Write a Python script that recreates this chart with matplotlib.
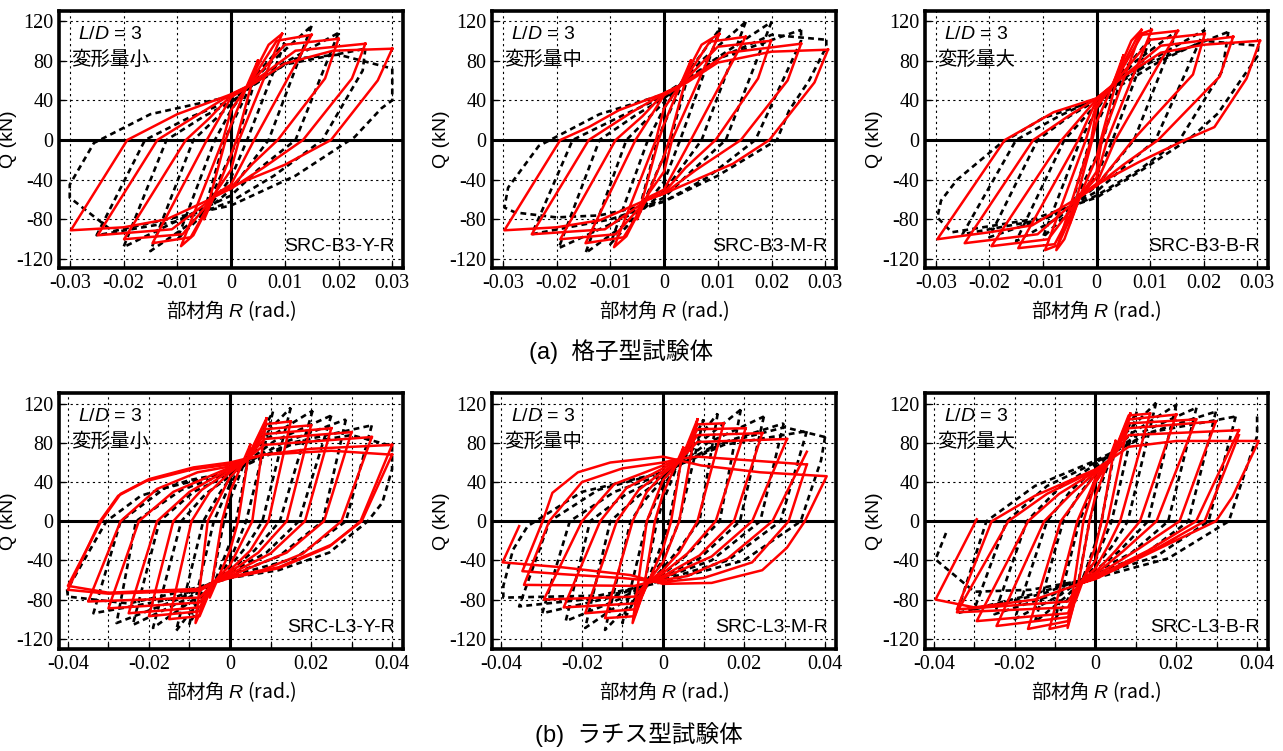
import matplotlib
matplotlib.use('Agg')
import matplotlib.pyplot as plt

plt.rcParams['font.family'] = ['Liberation Sans', 'Noto Sans CJK JP']
plt.rcParams['mathtext.fontset'] = 'custom'
plt.rcParams['mathtext.rm'] = 'Liberation Sans'
plt.rcParams['mathtext.it'] = 'Liberation Sans:italic'

# ---- data: each cycle is a list of (R [rad], Q [kN]) ----
# (a) lattice (格子型) specimens, black = test, red = analysis
B3Y_EXP = [
    [(0.005, 70), (0.0012, 0), (0, -14), (-0.005, -72), (-0.0012, 0), (0, 14), (0.005, 70)],
    [(0.010, 98), (0.003, 0), (0, -38), (-0.005, -74), (-0.010, -100), (-0.003, 0), (0, 30), (0.005, 68), (0.010, 98)],
    [(0.015, 115), (0.007, 0), (0, -50), (-0.007, -82), (-0.015, -112), (-0.007, 0), (0, 36), (0.007, 76), (0.015, 115)],
    [(0.020, 108), (0.012, 0), (0.005, -30), (0, -56), (-0.008, -76), (-0.020, -108), (-0.012, 0), (-0.005, 24), (0, 38), (0.008, 72), (0.020, 108)],
    [(0.025, 92), (0.0245, 70), (0.017, 0), (0.008, -36), (0, -62), (-0.010, -82), (-0.025, -96), (-0.016, 0), (-0.008, 22), (0, 40), (0.010, 76), (0.025, 92)],
    [(0.030, 72), (0.030, 40), (0.028, 32), (0.023, 3), (0.012, -36), (0, -66), (-0.012, -80), (-0.022, -92), (-0.030, -58), (-0.030, -45), (-0.0255, -3), (-0.015, 26), (0, 44), (0.012, 82), (0.020, 86), (0.030, 72)],
]
B3Y_ANA = [
    [(0.005, 80), (0.001, 0), (0, -15), (-0.003, -55), (-0.005, -80), (-0.001, 0), (0, 15), (0.003, 55), (0.005, 80)],
    [(0.0095, 107), (0.0015, 0), (0, -30), (-0.003, -54), (-0.007, -96), (-0.0093, -107), (-0.0015, 0), (0, 30), (0.003, 54), (0.007, 96), (0.0095, 107)],
    [(0.015, 106), (0.0043, 0), (0, -45), (-0.003, -55), (-0.0075, -98), (-0.0146, -104), (-0.0045, 0), (0, 43), (0.003, 53), (0.0085, 100), (0.015, 106)],
    [(0.020, 102), (0.0175, 62), (0.0087, 0), (0.004, -24), (0, -48), (-0.003, -56), (-0.009, -95), (-0.0199, -100), (-0.0084, 0), (-0.004, 22), (0, 45), (0.003, 53), (0.010, 96), (0.020, 102)],
    [(0.025, 97), (0.0225, 62), (0.0134, 0), (0.006, -28), (0, -49), (-0.003, -57), (-0.011, -90), (-0.0248, -96), (-0.0137, 0), (-0.006, 26), (0, 46), (0.003, 54), (0.012, 90), (0.025, 97)],
    [(0.030, 92), (0.0273, 60), (0.0186, 0), (0.010, -25), (0, -47), (-0.004, -60), (-0.012, -80), (-0.020, -88), (-0.0298, -91), (-0.0193, 0), (-0.010, 26), (0, 46), (0.0043, 57), (0.010, 77), (0.019, 90), (0.030, 92)],
]

B3M_EXP = [
    [(0.005, 75), (0.0012, 0), (0, -16), (-0.005, -78), (-0.0012, 0), (0, 16), (0.005, 75)],
    [(0.0105, 113), (0.003, 0), (0, -42), (-0.005, -76), (-0.010, -105), (-0.003, 0), (0, 32), (0.005, 72), (0.0105, 113)],
    [(0.0152, 119), (0.007, 0), (0, -52), (-0.007, -84), (-0.0146, -114), (-0.007, 0), (0, 38), (0.007, 80), (0.0152, 119)],
    [(0.020, 119), (0.0115, 0), (0.005, -32), (0, -58), (-0.008, -80), (-0.0196, -109), (-0.012, 0), (-0.005, 26), (0, 42), (0.008, 76), (0.020, 119)],
    [(0.0255, 111), (0.0255, 100), (0.017, 0), (0.008, -38), (0, -62), (-0.010, -80), (-0.0246, -95), (-0.017, 0), (-0.008, 24), (0, 44), (0.010, 82), (0.0255, 111)],
    [(0.0302, 101), (0.0302, 94), (0.027, 60), (0.0233, 30), (0.021, 0), (0.010, -36), (0, -62), (-0.012, -76), (-0.020, -78), (-0.0277, -73), (-0.0297, -68), (-0.029, -48), (-0.0233, -6), (-0.012, 26), (0, 46), (0.010, 82), (0.020, 106), (0.0302, 101)],
]
B3M_ANA = [
    [(0.005, 80), (0.001, 0), (0, -16), (-0.003, -55), (-0.005, -80), (-0.001, 0), (0, 16), (0.003, 55), (0.005, 80)],
    [(0.0103, 107), (0.0015, 0), (0, -32), (-0.003, -55), (-0.007, -97), (-0.0093, -108), (-0.0015, 0), (0, 32), (0.003, 55), (0.007, 96), (0.0103, 107)],
    [(0.0152, 104), (0.005, 0), (0, -50), (-0.003, -58), (-0.0075, -98), (-0.0146, -104), (-0.0053, 0), (0, 45), (0.003, 54), (0.0085, 99), (0.0152, 104)],
    [(0.0199, 100), (0.0175, 62), (0.0096, 0), (0.004, -28), (0, -53), (-0.003, -59), (-0.009, -95), (-0.0193, -100), (-0.009, 0), (-0.004, 24), (0, 47), (0.003, 55), (0.010, 94), (0.0199, 100)],
    [(0.0255, 97), (0.023, 60), (0.0143, 0), (0.006, -30), (0, -54), (-0.003, -60), (-0.011, -90), (-0.0246, -95), (-0.014, 0), (-0.006, 28), (0, 47), (0.003, 55), (0.012, 88), (0.0255, 97)],
    [(0.0305, 91), (0.028, 58), (0.0196, 0), (0.0128, -24), (0, -54), (-0.004, -62), (-0.012, -81), (-0.020, -88), (-0.0297, -91), (-0.0193, 0), (-0.014, 13), (-0.0084, 30), (0, 47), (0.0043, 58), (0.010, 78), (0.020, 89), (0.0305, 91)],
]

B3B_EXP = [
    [(0.005, 70), (0.0012, 0), (0, -16), (-0.005, -72), (-0.0012, 0), (0, 16), (0.005, 70)],
    [(0.010, 102), (0.003, 0), (0, -36), (-0.005, -72), (-0.010, -98), (-0.003, 0), (0, 30), (0.005, 70), (0.010, 102)],
    [(0.015, 110), (0.007, 0), (0, -46), (-0.007, -78), (-0.015, -102), (-0.006, 0), (0, 36), (0.007, 78), (0.015, 110)],
    [(0.0202, 111), (0.011, 0), (0.005, -28), (0, -52), (-0.008, -76), (-0.020, -98), (-0.011, 0), (-0.005, 24), (0, 40), (0.008, 74), (0.0202, 111)],
    [(0.0246, 109), (0.0235, 70), (0.0155, 0), (0.008, -30), (0, -56), (-0.010, -80), (-0.025, -95), (-0.015, 0), (-0.007, 24), (0, 42), (0.010, 78), (0.0246, 109)],
    [(0.0302, 95), (0.030, 84), (0.027, 61), (0.0227, 27), (0.0184, 6), (0.017, 0), (0.008, -32), (0, -58), (-0.012, -80), (-0.027, -93), (-0.0297, -78), (-0.029, -61), (-0.026, -40), (-0.018, -4), (-0.010, 22), (0, 40), (0.012, 80), (0.020, 100), (0.0302, 95)],
]
B3B_ANA = [
    [(0.005, 85), (0.0008, 0), (0, -18), (-0.003, -55), (-0.005, -85), (-0.0008, 0), (0, 18), (0.003, 55), (0.005, 85)],
    [(0.0084, 111), (0.001, 0), (0, -32), (-0.003, -56), (-0.006, -100), (-0.0075, -111), (-0.001, 0), (0, 32), (0.003, 56), (0.0065, 100), (0.0084, 111)],
    [(0.0103, 111), (0.002, 0), (0, -38), (-0.003, -56), (-0.0072, -106), (-0.0096, -111), (-0.002, 0), (0, 36), (0.003, 56), (0.0078, 106), (0.0103, 111)],
    [(0.0152, 110), (0.0035, 0), (0, -44), (-0.003, -56), (-0.0078, -105), (-0.0146, -109), (-0.0034, 0), (0, 40), (0.003, 55), (0.0085, 106), (0.0152, 110)],
    [(0.0202, 107), (0.018, 66), (0.0068, 0), (0, -46), (-0.003, -57), (-0.009, -100), (-0.0196, -107), (-0.0065, 0), (0, 41), (0.003, 55), (0.010, 101), (0.0202, 107)],
    [(0.0255, 104), (0.023, 64), (0.0115, 0), (0.005, -25), (0, -46), (-0.003, -57), (-0.011, -95), (-0.0246, -104), (-0.0118, 0), (-0.005, 25), (0, 42), (0.003, 55), (0.012, 95), (0.0255, 104)],
    [(0.0305, 100), (0.028, 62), (0.022, 13), (0.0165, 0), (0.008, -22), (0, -45), (-0.004, -60), (-0.012, -86), (-0.020, -93), (-0.0297, -100), (-0.0171, 0), (-0.008, 28), (0, 42), (0.0045, 62), (0.012, 88), (0.020, 96), (0.0305, 100)],
]

# (b) lacing (ラチス型) specimens
L3Y_EXP = [
    [(0.005, 75), (0.0015, 0), (0, -22), (-0.005, -75), (-0.0015, 0), (0, 22), (0.005, 75)],
    [(0.0106, 112), (0.004, 0), (0, -40), (-0.006, -74), (-0.010, -105), (-0.004, 0), (0, 38), (0.006, 76), (0.0106, 112)],
    [(0.015, 116), (0.008, 0), (0.004, -26), (0, -46), (-0.007, -78), (-0.0133, -112), (-0.0066, 0), (-0.003, 26), (0, 44), (0.007, 82), (0.015, 116)],
    [(0.0204, 113), (0.0123, 0), (0.006, -30), (0, -50), (-0.009, -80), (-0.019, -109), (-0.012, 0), (-0.006, 28), (0, 46), (0.009, 84), (0.0204, 113)],
    [(0.025, 108), (0.017, 0), (0.009, -32), (0, -52), (-0.011, -80), (-0.024, -106), (-0.0174, 0), (-0.009, 30), (0, 48), (0.011, 82), (0.025, 108)],
    [(0.0286, 104), (0.0229, 0), (0.012, -36), (0, -55), (-0.013, -80), (-0.028, -104), (-0.0232, 0), (-0.012, 32), (0, 50), (0.013, 80), (0.0286, 104)],
    [(0.035, 98), (0.0286, 0), (0.016, -38), (0, -56), (-0.015, -80), (-0.0337, -94), (-0.027, 0), (-0.016, 34), (0, 50), (0.015, 80), (0.035, 98)],
    [(0.040, 77), (0.040, 53), (0.0376, 19), (0.034, 0), (0.0245, -32), (0.012, -50), (0, -58), (-0.012, -72), (-0.025, -84), (-0.040, -77), (-0.0402, -70), (-0.0305, 0), (-0.022, 26), (-0.010, 42), (0, 50), (0.015, 78), (0.030, 88), (0.040, 77)],
]
L3Y_ANA = [
    [(0.005, 78), (0.002, 0), (0, -30), (-0.005, -78), (-0.002, 0), (0, 30), (0.005, 78)],
    [(0.009, 105), (0.0055, 0), (0, -45), (-0.004, -62), (-0.0085, -104), (-0.0055, 0), (0, 45), (0.004, 62), (0.009, 105)],
    [(0.015, 102), (0.0095, 0), (0.005, -30), (0, -50), (-0.004, -62), (-0.0075, -97), (-0.015, -100), (-0.0095, 0), (-0.005, 30), (0, 50), (0.004, 62), (0.0085, 99), (0.015, 102)],
    [(0.020, 98), (0.014, 0), (0.007, -32), (0, -52), (-0.004, -62), (-0.0075, -92), (-0.020, -97), (-0.014, 0), (-0.007, 32), (0, 52), (0.004, 62), (0.0085, 94), (0.020, 98)],
    [(0.025, 95), (0.0185, 0), (0.010, -33), (0, -54), (-0.004, -62), (-0.0075, -88), (-0.025, -94), (-0.018, 0), (-0.010, 30), (0, 54), (0.004, 62), (0.0085, 89), (0.025, 95)],
    [(0.030, 91), (0.0232, 0), (0.014, -32), (0, -56), (-0.004, -63), (-0.0075, -83), (-0.030, -89), (-0.0225, 0), (-0.014, 30), (0, 55), (0.004, 63), (0.0085, 84), (0.030, 91)],
    [(0.035, 86), (0.0275, 0), (0.018, -33), (0.008, -50), (0, -57), (-0.004, -63), (-0.0075, -78), (-0.035, -82), (-0.027, 0), (-0.018, 33), (-0.008, 50), (0, 56), (0.004, 63), (0.0085, 78), (0.035, 86)],
    [(0.040, 78), (0.0322, 0), (0.0245, -26), (0.012, -48), (0, -58), (-0.004, -63), (-0.0075, -71), (-0.030, -74), (-0.040, -70), (-0.0321, 0), (-0.0276, 26), (-0.0207, 41), (-0.0092, 53), (0, 58), (0.004, 63), (0.0085, 68), (0.020, 74), (0.040, 78)],
    [(0.040, 68), (0.0325, 0), (0.025, -24), (0.012, -47), (0, -57), (-0.004, -62), (-0.0075, -69), (-0.030, -73), (-0.040, -66), (-0.0318, 0), (-0.027, 28), (-0.020, 43), (-0.009, 55), (0, 60), (0.004, 64), (0.0085, 68), (0.025, 72), (0.040, 68)],
]

L3M_EXP = [
    [(0.005, 72), (0.0015, 0), (0, -20), (-0.005, -74), (-0.0015, 0), (0, 20), (0.005, 72)],
    [(0.010, 104), (0.004, 0), (0, -40), (-0.006, -72), (-0.010, -104), (-0.004, 0), (0, 36), (0.006, 70), (0.010, 104)],
    [(0.0135, 110), (0.009, 0), (0.004, -28), (0, -48), (-0.007, -80), (-0.0143, -111), (-0.008, 0), (-0.004, 24), (0, 42), (0.007, 76), (0.0135, 110)],
    [(0.0192, 114), (0.014, 0), (0.006, -34), (0, -54), (-0.009, -80), (-0.0192, -109), (-0.013, 0), (-0.006, 26), (0, 44), (0.009, 80), (0.0192, 114)],
    [(0.0249, 107), (0.019, 0), (0.009, -38), (0, -56), (-0.011, -80), (-0.024, -102), (-0.018, 0), (-0.009, 28), (0, 46), (0.011, 80), (0.0249, 107)],
    [(0.0298, 100), (0.024, 0), (0.012, -40), (0, -58), (-0.013, -78), (-0.0298, -94), (-0.023, 0), (-0.012, 30), (0, 48), (0.013, 78), (0.0298, 100)],
    [(0.0355, 92), (0.029, 0), (0.016, -40), (0, -60), (-0.015, -78), (-0.0355, -87), (-0.028, 0), (-0.016, 32), (0, 50), (0.015, 78), (0.0355, 92)],
    [(0.040, 86), (0.039, 62), (0.0368, 35), (0.034, 0), (0.020, -40), (0, -62), (-0.016, -76), (-0.0394, -78), (-0.0394, -66), (-0.037, -29), (-0.0334, -5), (-0.020, 30), (0, 50), (0.015, 80), (0.030, 96), (0.040, 86)],
]
L3M_ANA = [
    [(0.005, 75), (0.002, 0), (0, -28), (-0.005, -75), (-0.002, 0), (0, 28), (0.005, 75)],
    [(0.0085, 104), (0.004, 0), (0, -42), (-0.004, -63), (-0.0075, -104), (-0.004, 0), (0, 42), (0.0045, 63), (0.0085, 104)],
    [(0.015, 100), (0.0085, 0), (0.004, -32), (0, -50), (-0.004, -63), (-0.007, -97), (-0.0143, -99), (-0.0075, 0), (-0.004, 30), (0, 48), (0.0045, 63), (0.0085, 99), (0.015, 100)],
    [(0.0204, 95), (0.013, 0), (0.006, -33), (0, -53), (-0.004, -63), (-0.007, -90), (-0.0192, -94), (-0.0114, 0), (-0.006, 32), (0, 51), (0.0045, 63), (0.0085, 94), (0.0204, 95)],
    [(0.0245, 90), (0.0175, 0), (0.009, -35), (0, -56), (-0.004, -63), (-0.007, -84), (-0.0245, -88), (-0.0155, 0), (-0.009, 34), (0, 54), (0.0045, 64), (0.0085, 88), (0.0245, 90)],
    [(0.0306, 84), (0.022, 0), (0.012, -36), (0, -58), (-0.004, -63), (-0.007, -77), (-0.0294, -80), (-0.020, 0), (-0.012, 38), (0, 57), (0.0045, 64), (0.0085, 81), (0.0306, 84)],
    [(0.0355, 71), (0.027, 0), (0.016, -38), (0.006, -56), (0, -60), (-0.004, -63), (-0.007, -66), (-0.0343, -65), (-0.0281, 0), (-0.020, 40), (-0.010, 54), (0, 60), (0.0045, 64), (0.0085, 66), (0.0355, 58)],
    [(0.0355, 58), (0.031, 0), (0.022, -42), (0.010, -58), (0, -62), (-0.010, -58), (-0.025, -54), (-0.0347, -51), (-0.0297, 0), (-0.0273, 29), (-0.021, 50), (-0.013, 60), (0, 66), (0.0094, 57), (0.024, 50), (0.0404, 46),
     (0.035, 0), (0.0306, -27), (0.0245, -50), (0.012, -63), (0, -64), (-0.008, -55), (-0.025, -47), (-0.0396, -42), (-0.0355, -5)],
]

L3B_EXP = [
    [(0.005, 78), (0.0015, 0), (0, -22), (-0.005, -80), (-0.0015, 0), (0, 22), (0.005, 78)],
    [(0.0102, 112), (0.004, 0), (0, -40), (-0.006, -74), (-0.010, -100), (-0.004, 0), (0, 40), (0.006, 80), (0.0102, 112)],
    [(0.015, 121), (0.008, 0), (0.004, -26), (0, -46), (-0.007, -76), (-0.015, -103), (-0.008, 0), (-0.004, 28), (0, 48), (0.007, 88), (0.015, 121)],
    [(0.020, 119), (0.013, 0), (0.006, -30), (0, -50), (-0.009, -76), (-0.020, -100), (-0.012, 0), (-0.006, 32), (0, 54), (0.009, 90), (0.020, 119)],
    [(0.025, 116), (0.018, 0), (0.009, -32), (0, -52), (-0.011, -76), (-0.025, -95), (-0.017, 0), (-0.009, 34), (0, 58), (0.011, 90), (0.025, 116)],
    [(0.0298, 112), (0.023, 0), (0.012, -34), (0, -54), (-0.013, -74), (-0.030, -90), (-0.022, 0), (-0.012, 36), (0, 60), (0.013, 90), (0.0298, 112)],
    [(0.0347, 107), (0.028, 0), (0.015, -36), (0, -56), (-0.015, -74), (-0.0343, -94), (-0.027, 0), (-0.015, 36), (0, 62), (0.015, 92), (0.0347, 107)],
    [(0.040, 107), (0.040, 87), (0.037, 50), (0.033, 0), (0.018, -38), (0, -58), (-0.016, -70), (-0.030, -72), (-0.0396, -39), (-0.037, -12)],
]
L3B_ANA = [
    [(0.005, 82), (0.0015, 0), (0, -26), (-0.005, -82), (-0.0015, 0), (0, 26), (0.005, 82)],
    [(0.0086, 110), (0.003, 0), (0, -40), (-0.004, -64), (-0.0069, -109), (-0.003, 0), (0, 40), (0.004, 64), (0.0086, 110)],
    [(0.0135, 110), (0.0061, 0), (0.003, -26), (0, -48), (-0.004, -64), (-0.0068, -106), (-0.0114, -110), (-0.0045, 0), (-0.002, 24), (0, 44), (0.004, 64), (0.0082, 108), (0.0135, 110)],
    [(0.020, 109), (0.011, 0), (0.005, -30), (0, -52), (-0.004, -64), (-0.0068, -102), (-0.0167, -110), (-0.0086, 0), (-0.004, 26), (0, 48), (0.004, 64), (0.0082, 104), (0.020, 109)],
    [(0.0249, 104), (0.0151, 0), (0.007, -30), (0, -54), (-0.004, -64), (-0.0068, -98), (-0.0245, -107), (-0.0127, 0), (-0.006, 28), (0, 50), (0.004, 64), (0.0082, 100), (0.0249, 104)],
    [(0.0298, 102), (0.0208, 0), (0.010, -30), (0, -56), (-0.004, -64), (-0.0068, -94), (-0.0294, -102), (-0.0167, 0), (-0.009, 28), (0, 51), (0.004, 64), (0.0082, 95), (0.0298, 102)],
    [(0.0355, 93), (0.0249, 0), (0.013, -30), (0, -57), (-0.004, -64), (-0.0068, -88), (-0.0343, -93), (-0.0216, 0), (-0.012, 28), (0, 52), (0.004, 64), (0.0082, 88), (0.0355, 93)],
    [(0.0355, 88), (0.027, 0), (0.015, -28), (0, -58), (-0.004, -64), (-0.0068, -82), (-0.0343, -90), (-0.0257, 0), (-0.015, 26), (0, 53), (0.004, 64), (0.0082, 76), (0.020, 82), (0.0404, 82),
     (0.0339, 25), (0.0298, 0), (0.0167, -26), (0, -59), (-0.004, -64), (-0.015, -80), (-0.030, -88), (-0.0396, -80), (-0.0294, 2)],
]

NAMES = ['SRC-B3-Y-R', 'SRC-B3-M-R', 'SRC-B3-B-R', 'SRC-L3-Y-R', 'SRC-L3-M-R', 'SRC-L3-B-R']
DEFORM = ['変形量小', '変形量中', '変形量大', '変形量小', '変形量中', '変形量大']
EXP = [B3Y_EXP, B3M_EXP, B3B_EXP, L3Y_EXP, L3M_EXP, L3B_EXP]
ANA = [B3Y_ANA, B3M_ANA, B3B_ANA, L3Y_ANA, L3M_ANA, L3B_ANA]

TOP_XTICKS = [-0.03, -0.02, -0.01, 0, 0.01, 0.02, 0.03]
TOP_XLABELS = ['-0.03', '-0.02', '-0.01', '0', '0.01', '0.02', '0.03']
BOT_XTICKS = [-0.04, -0.03, -0.02, -0.01, 0, 0.01, 0.02, 0.03, 0.04]
BOT_XLABELS = ['-0.04', '', '-0.02', '', '0', '', '0.02', '', '0.04']
YTICKS = [-120, -80, -40, 0, 40, 80, 120]
YLABELS = ['-120', '-80', '-40', '0', '40', '80', '120']

CAPTIONS = ['(a)  格子型試験体', '(b)  ラチス型試験体']

W, H = 1283, 751
fig = plt.figure(figsize=(W / 100, H / 100), dpi=100)

lefts = [59, 492, 925]
widths = [344, 344, 343]
rows = [(11, 268), (393, 649)]

for i in range(6):
    r, c = divmod(i, 3)
    top, bot = rows[r]
    ax = fig.add_axes([lefts[c] / W, 1 - bot / H, widths[c] / W, (bot - top) / H])

    for cyc in EXP[i]:
        R, Q = zip(*cyc)
        ax.plot(R, Q, color='black', lw=1.9, ls=(0, (2.2, 1.6)), zorder=2,
                dash_capstyle='butt', dash_joinstyle='round')
    for cyc in ANA[i]:
        R, Q = zip(*cyc)
        ax.plot(R, Q, color='#ff0000', lw=1.8, zorder=3, solid_joinstyle='round')

    ax.axhline(0, color='black', lw=2.2, zorder=1.5)
    ax.axvline(0, color='black', lw=2.2, zorder=1.5)

    if r == 0:
        ax.set_xlim(-0.032, 0.032)
        ax.set_xticks(TOP_XTICKS)
        ax.set_xticklabels(TOP_XLABELS)
        ax.set_ylim(-129, 130)
    else:
        ax.set_xlim(-0.0422, 0.0427)
        ax.set_xticks(BOT_XTICKS)
        ax.set_xticklabels(BOT_XLABELS)
        ax.set_ylim(-130.5, 131)
    ax.set_yticks(YTICKS)
    ax.set_yticklabels(YLABELS)

    ax.grid(True, color='black', lw=0.8, ls=(0, (2, 3)), zorder=1)
    ax.set_axisbelow(True)
    for sp in ax.spines.values():
        sp.set_linewidth(2.6)
    ax.tick_params(direction='in', length=4, width=1, labelsize=14.5, pad=4)
    for lab in ax.get_xticklabels() + ax.get_yticklabels():
        lab.set_family('Liberation Serif')

    ax.set_xlabel('部材角 $R$ (rad.)', fontsize=14, family='Noto Sans CJK JP')
    ax.xaxis.set_label_coords(0.5, -0.118)
    ax.set_ylabel('Q (kN)', fontsize=14)
    ax.yaxis.set_label_coords(-0.122, 0.5)

    ax.text(0.15, 0.907, '$L/D$ = 3', transform=ax.transAxes, ha='center', va='center', fontsize=14)
    ax.text(0.15, 0.813, DEFORM[i], transform=ax.transAxes, ha='center', va='center', fontsize=14,
            family='Noto Sans CJK JP')
    ax.text(0.975, 0.085, NAMES[i], transform=ax.transAxes, ha='right', va='center', fontsize=14,
            zorder=5)

fig.text(621 / W, 1 - 352 / H, CAPTIONS[0], ha='center', va='center', fontsize=17)
fig.text(639 / W, 1 - 735 / H, CAPTIONS[1], ha='center', va='center', fontsize=17)

fig.savefig('out.png', dpi=100)
